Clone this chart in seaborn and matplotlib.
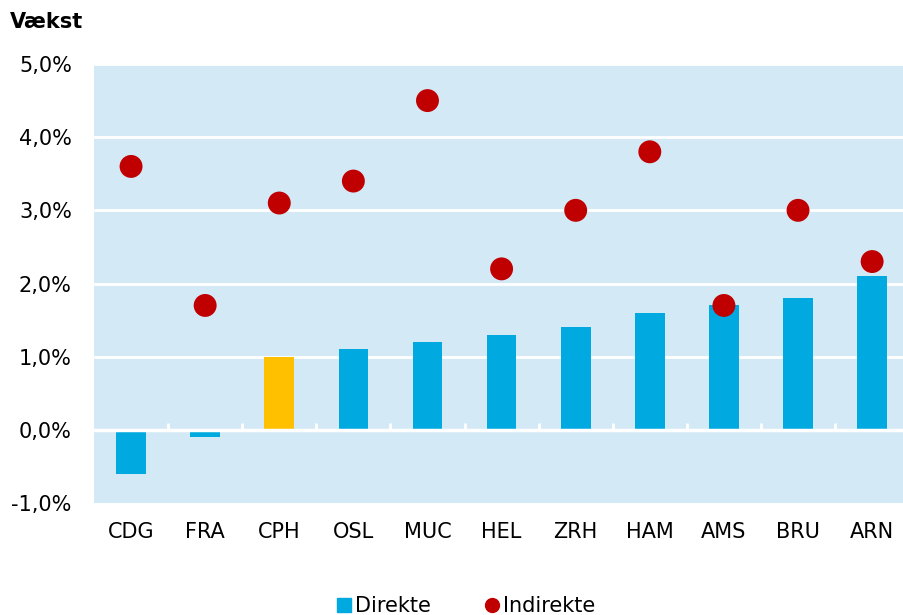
import matplotlib
matplotlib.use("Agg")
import matplotlib.pyplot as plt
import seaborn as sns
import numpy as np
from matplotlib.lines import Line2D
from matplotlib.ticker import FuncFormatter

categories = ["CDG", "FRA", "CPH", "OSL", "MUC", "HEL", "ZRH", "HAM", "AMS", "BRU", "ARN"]
direkte = [-0.6, -0.1, 1.0, 1.1, 1.2, 1.3, 1.4, 1.6, 1.7, 1.8, 2.1]
indirekte = [3.6, 1.7, 3.1, 3.4, 4.5, 2.2, 3.0, 3.8, 1.7, 3.0, 2.3]
y_ticks = [-1, 0, 1, 2, 3, 4, 5]

BLUE = "#00A9E0"
YELLOW = "#FFC000"
RED = "#C00000"
BG = "#D3E9F6"

sns.set_theme(style="white")
plt.rcParams["font.family"] = ["DejaVu Sans"]
plt.rcParams["text.color"] = "black"

FS = 15

fig = plt.figure(figsize=(9.04, 6.15), dpi=100)
ax = fig.add_axes([94/904, 1 - 503/615, (904 - 94)/904, (503 - 64)/615])
ax.set_facecolor(BG)

palette = {c: (YELLOW if c == "CPH" else BLUE) for c in categories}
sns.barplot(x=categories, y=direkte, hue=categories, palette=palette, legend=False,
            width=0.4, ax=ax, saturation=1, zorder=3, linewidth=0)
sns.stripplot(x=categories, y=indirekte, color=RED, jitter=False, size=16.5,
              linewidth=0, edgecolor="none", ax=ax, zorder=4)

ax.set_ylim(-1, 5)
ax.set_xlim(-0.5, 10.43)
ax.set_yticks(y_ticks)
ax.yaxis.set_major_formatter(FuncFormatter(lambda v, p: f"{v:.1f}%".replace(".", ",")))
for y in y_ticks[2:]:
    ax.axhline(y, color="white", lw=2, zorder=1)
ax.axhline(0, color="white", lw=2.5, zorder=5)
bounds = np.arange(0.5, len(categories) - 1, 1.0)
ax.vlines(bounds, 0, 0.1, color="white", lw=2, zorder=5)

for s in ax.spines.values():
    s.set_visible(False)
ax.tick_params(axis="both", length=0, labelsize=FS, colors="black")
ax.tick_params(axis="y", pad=16)
ax.tick_params(axis="x", pad=14)
for lbl in ax.get_yticklabels():
    lbl.set_ha("right")

fig.text(10/904, 1 - 22/615, "Vækst", fontsize=FS, fontweight="bold", va="center", ha="left",
         color="black")

handles = [Line2D([], [], marker="s", color=BLUE, linestyle="none", markersize=10),
           Line2D([], [], marker="o", color=RED, linestyle="none", markersize=10)]
fig.legend(handles, ["Direkte", "Indirekte"], loc="center", bbox_to_anchor=(0.515, 1 - 606/615),
           ncol=2, frameon=False, fontsize=FS, handletextpad=0.15, columnspacing=2.5,
           handlelength=0.8, borderpad=0)

fig.savefig("out.png", dpi=100)
